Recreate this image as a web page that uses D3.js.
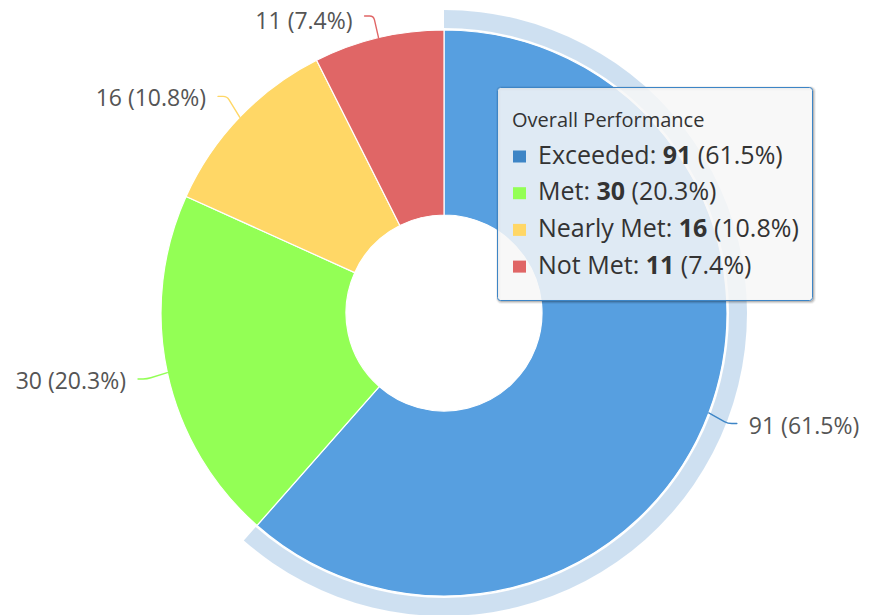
<!DOCTYPE html>
<html>
<head>
<meta charset="utf-8">
<script src="https://cdn.jsdelivr.net/npm/d3@7"></script>
<style>
  html, body { margin: 0; padding: 0; background: #ffffff; }
  svg { display: block; font-family: "Open Sans", "Noto Sans", sans-serif; }
</style>
</head>
<body>
<svg id="chart" width="874" height="615"></svg>
<script>
// ---- data ----
const tooltipTitle = "Overall Performance";
const categories = ["Exceeded", "Met", "Nearly Met", "Not Met"];
const values = [91, 30, 16, 11];
const colors = ["#3D85C6", "#93FF55", "#FFD766", "#E06666"];
const hoveredIndex = 0;

// ---- layout ----
const W = 874, H = 615;
const cx = 444, cy = 313;
const outerR = 283, innerR = 98;
const haloIn = 285, haloOut = 303;
const labelDist = 30;

const svg = d3.select("#chart");
const total = d3.sum(values);
const pct = v => (v / total * 100).toFixed(1) + "%";

// Highcharts-like brighten
function brighten(hex, amt) {
  const c = d3.rgb(hex);
  const f = v => Math.min(255, Math.round(v + 255 * amt));
  return d3.rgb(f(c.r), f(c.g), f(c.b)).formatHex();
}

const data = categories.map((c, i) => ({ name: c, value: values[i], color: colors[i] }));
const pie = d3.pie().value(d => d.value).sort(null).startAngle(0).endAngle(2 * Math.PI);
const arcs = pie(data);

const arc = d3.arc().innerRadius(innerR).outerRadius(outerR);
const haloArc = d3.arc().innerRadius(haloIn).outerRadius(haloOut);

const g = svg.append("g").attr("transform", `translate(${cx},${cy})`);

// halo for hovered point
const h = arcs[hoveredIndex];
g.append("path")
  .attr("d", haloArc({ startAngle: h.startAngle, endAngle: h.endAngle }))
  .attr("fill", colors[hoveredIndex])
  .attr("fill-opacity", 0.25);

// slices
g.selectAll("path.slice")
  .data(arcs)
  .join("path")
  .attr("class", "slice")
  .attr("d", arc)
  .attr("fill", (d, i) => i === hoveredIndex ? brighten(d.data.color, 0.1) : d.data.color)
  .attr("stroke", "#ffffff")
  .attr("stroke-width", 1.2)
  .attr("stroke-linejoin", "round");

// data labels with connectors
const labelsG = svg.append("g");
arcs.forEach((d, i) => {
  const a = (d.startAngle + d.endAngle) / 2;
  const s = Math.sin(a), c = Math.cos(a);
  const side = s >= 0 ? 1 : -1;
  const tx = cx + s * outerR, ty = cy - c * outerR;
  const R = outerR + labelDist;
  let ly = cy - c * R;
  const clamped = ly < 16;
  ly = Math.max(ly, 16);
  const lx = cx + s * R + (clamped ? 7 * side : 0);
  // horizontal stub then a softened bend toward the slice edge
  const hx = lx - side * 9;
  const dx = tx - hx, dyy = ty - ly;
  const len = Math.hypot(dx, dyy);
  const ux = dx / len, uy = dyy / len;
  const path = `M${lx},${ly} L${hx + side * 4},${ly} Q${hx},${ly} ${hx + ux * 4},${ly + uy * 4} L${tx},${ty}`;
  labelsG.append("path")
    .attr("d", path)
    .attr("fill", "none")
    .attr("stroke", d.data.color)
    .attr("stroke-width", 1.4)
    .attr("stroke-linecap", "round")
    .attr("stroke-linejoin", "round");
  labelsG.append("text")
    .attr("x", lx + side * 12)
    .attr("y", ly + (clamped ? 5 : 2))
    .attr("dy", "0.35em")
    .attr("text-anchor", side > 0 ? "start" : "end")
    .attr("font-size", 23)
    .attr("fill", "#555555")
    .text(`${d.data.value} (${pct(d.data.value)})`);
});

// tooltip
const tip = svg.append("g").attr("transform", "translate(497.5,87.5)");
const tw = 315, th = 213;
[[5, 0.05], [3, 0.1], [1, 0.15]].forEach(([sw, op]) => {
  tip.append("rect")
    .attr("x", 1).attr("y", 1).attr("width", tw).attr("height", th)
    .attr("rx", 3)
    .attr("fill", "none")
    .attr("stroke", "#000")
    .attr("stroke-opacity", op)
    .attr("stroke-width", sw);
});
tip.append("rect")
  .attr("width", tw).attr("height", th)
  .attr("rx", 3)
  .attr("fill", "rgba(247,247,247,0.85)")
  .attr("stroke", colors[hoveredIndex])
  .attr("stroke-width", 1);

tip.append("text")
  .attr("x", 14.5).attr("y", 39.5)
  .attr("font-size", 20)
  .attr("fill", "#333333")
  .text(tooltipTitle);

data.forEach((d, i) => {
  const base = 76 + i * 36.7;
  tip.append("rect")
    .attr("x", 15.5).attr("y", base - 13)
    .attr("width", 13).attr("height", 12)
    .attr("fill", d.color);
  const t = tip.append("text")
    .attr("x", 40.5).attr("y", base)
    .attr("font-size", 25)
    .attr("fill", "#333333");
  t.append("tspan").text(d.name + ": ");
  t.append("tspan").attr("font-weight", "bold").text(d.value);
  t.append("tspan").text(` (${pct(d.value)})`);
});
</script>
</body>
</html>
